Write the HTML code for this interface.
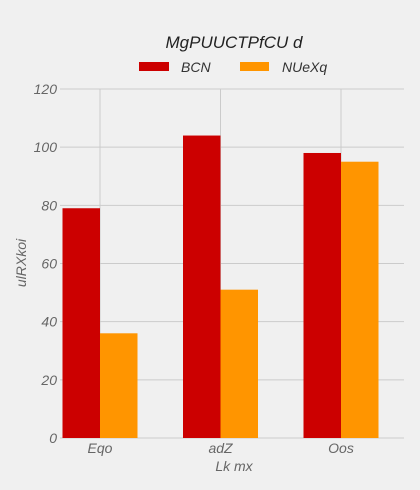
<!DOCTYPE html>
<html><head><meta charset="utf-8"><style>
body{margin:0;background:#f0f0f0;}
svg{display:block;font-family:"Liberation Sans",sans-serif;font-style:italic;}
</style></head><body>
<svg id="c" width="420" height="490">
<rect width="420" height="490" fill="#f0f0f0"/>
<text x="234" y="48" text-anchor="middle" font-size="17" fill="#222">MgPUUCTPfCU d</text>
<g>
<rect x="139" y="62" width="30" height="9" fill="#cc0000"/>
<text x="181" y="72" font-size="14" fill="#333">BCN</text>
<rect x="240" y="62" width="29" height="9" fill="#ff9500"/>
<text x="282" y="72" font-size="14" fill="#333">NUeXq</text>
</g>
<g id="grid"></g><g id="bars"></g><g id="labels"></g>
<text x="234" y="471" text-anchor="middle" font-size="14" fill="#666">Lk  mx</text>
<text transform="translate(26,263) rotate(-90)" text-anchor="middle" font-size="14" fill="#666">ulRXkoi</text>
</svg>
<script>
const categories=["Eqo","adZ","Oos"];
const seriesBCN=[79,104,98];
const seriesNUeXq=[36,51,95];
const yTicks=[0,20,40,60,80,100,120];
const ns="http://www.w3.org/2000/svg";
const y=v=>438-v*(349/120);
const xc=i=>100+i*120.5;
const bw=37.5;
function mk(t,a,p){const e=document.createElementNS(ns,t);for(const k in a)e.setAttribute(k,a[k]);p.appendChild(e);return e;}
const g=document.getElementById('grid'),b=document.getElementById('bars'),l=document.getElementById('labels');
yTicks.forEach(v=>{
 const ln=mk('line',{x1:60,x2:404,y1:y(v),y2:y(v),stroke:'#cbcbcb','stroke-width':1},g);
 
 
 const t=mk('text',{x:57,y:y(v)+5,'text-anchor':'end','font-size':14,fill:'#666'},l);
 t.textContent=v;
 
 
});
categories.forEach((c,i)=>{
 const ln=mk('line',{x1:xc(i),x2:xc(i),y1:89,y2:438,stroke:'#cbcbcb','stroke-width':1},g);
 
 
 const r1=mk('rect',{x:xc(i)-bw,y:y(seriesBCN[i]),width:bw,height:438-y(seriesBCN[i]),fill:'#cc0000'},b);
 
 
 const r2=mk('rect',{x:xc(i),y:y(seriesNUeXq[i]),width:bw,height:438-y(seriesNUeXq[i]),fill:'#ff9500'},b);
 
 
 const t=mk('text',{x:xc(i),y:453,'text-anchor':'middle','font-size':14,fill:'#666'},l);
 t.textContent=c;
 
 
});
</script>
</body></html>
